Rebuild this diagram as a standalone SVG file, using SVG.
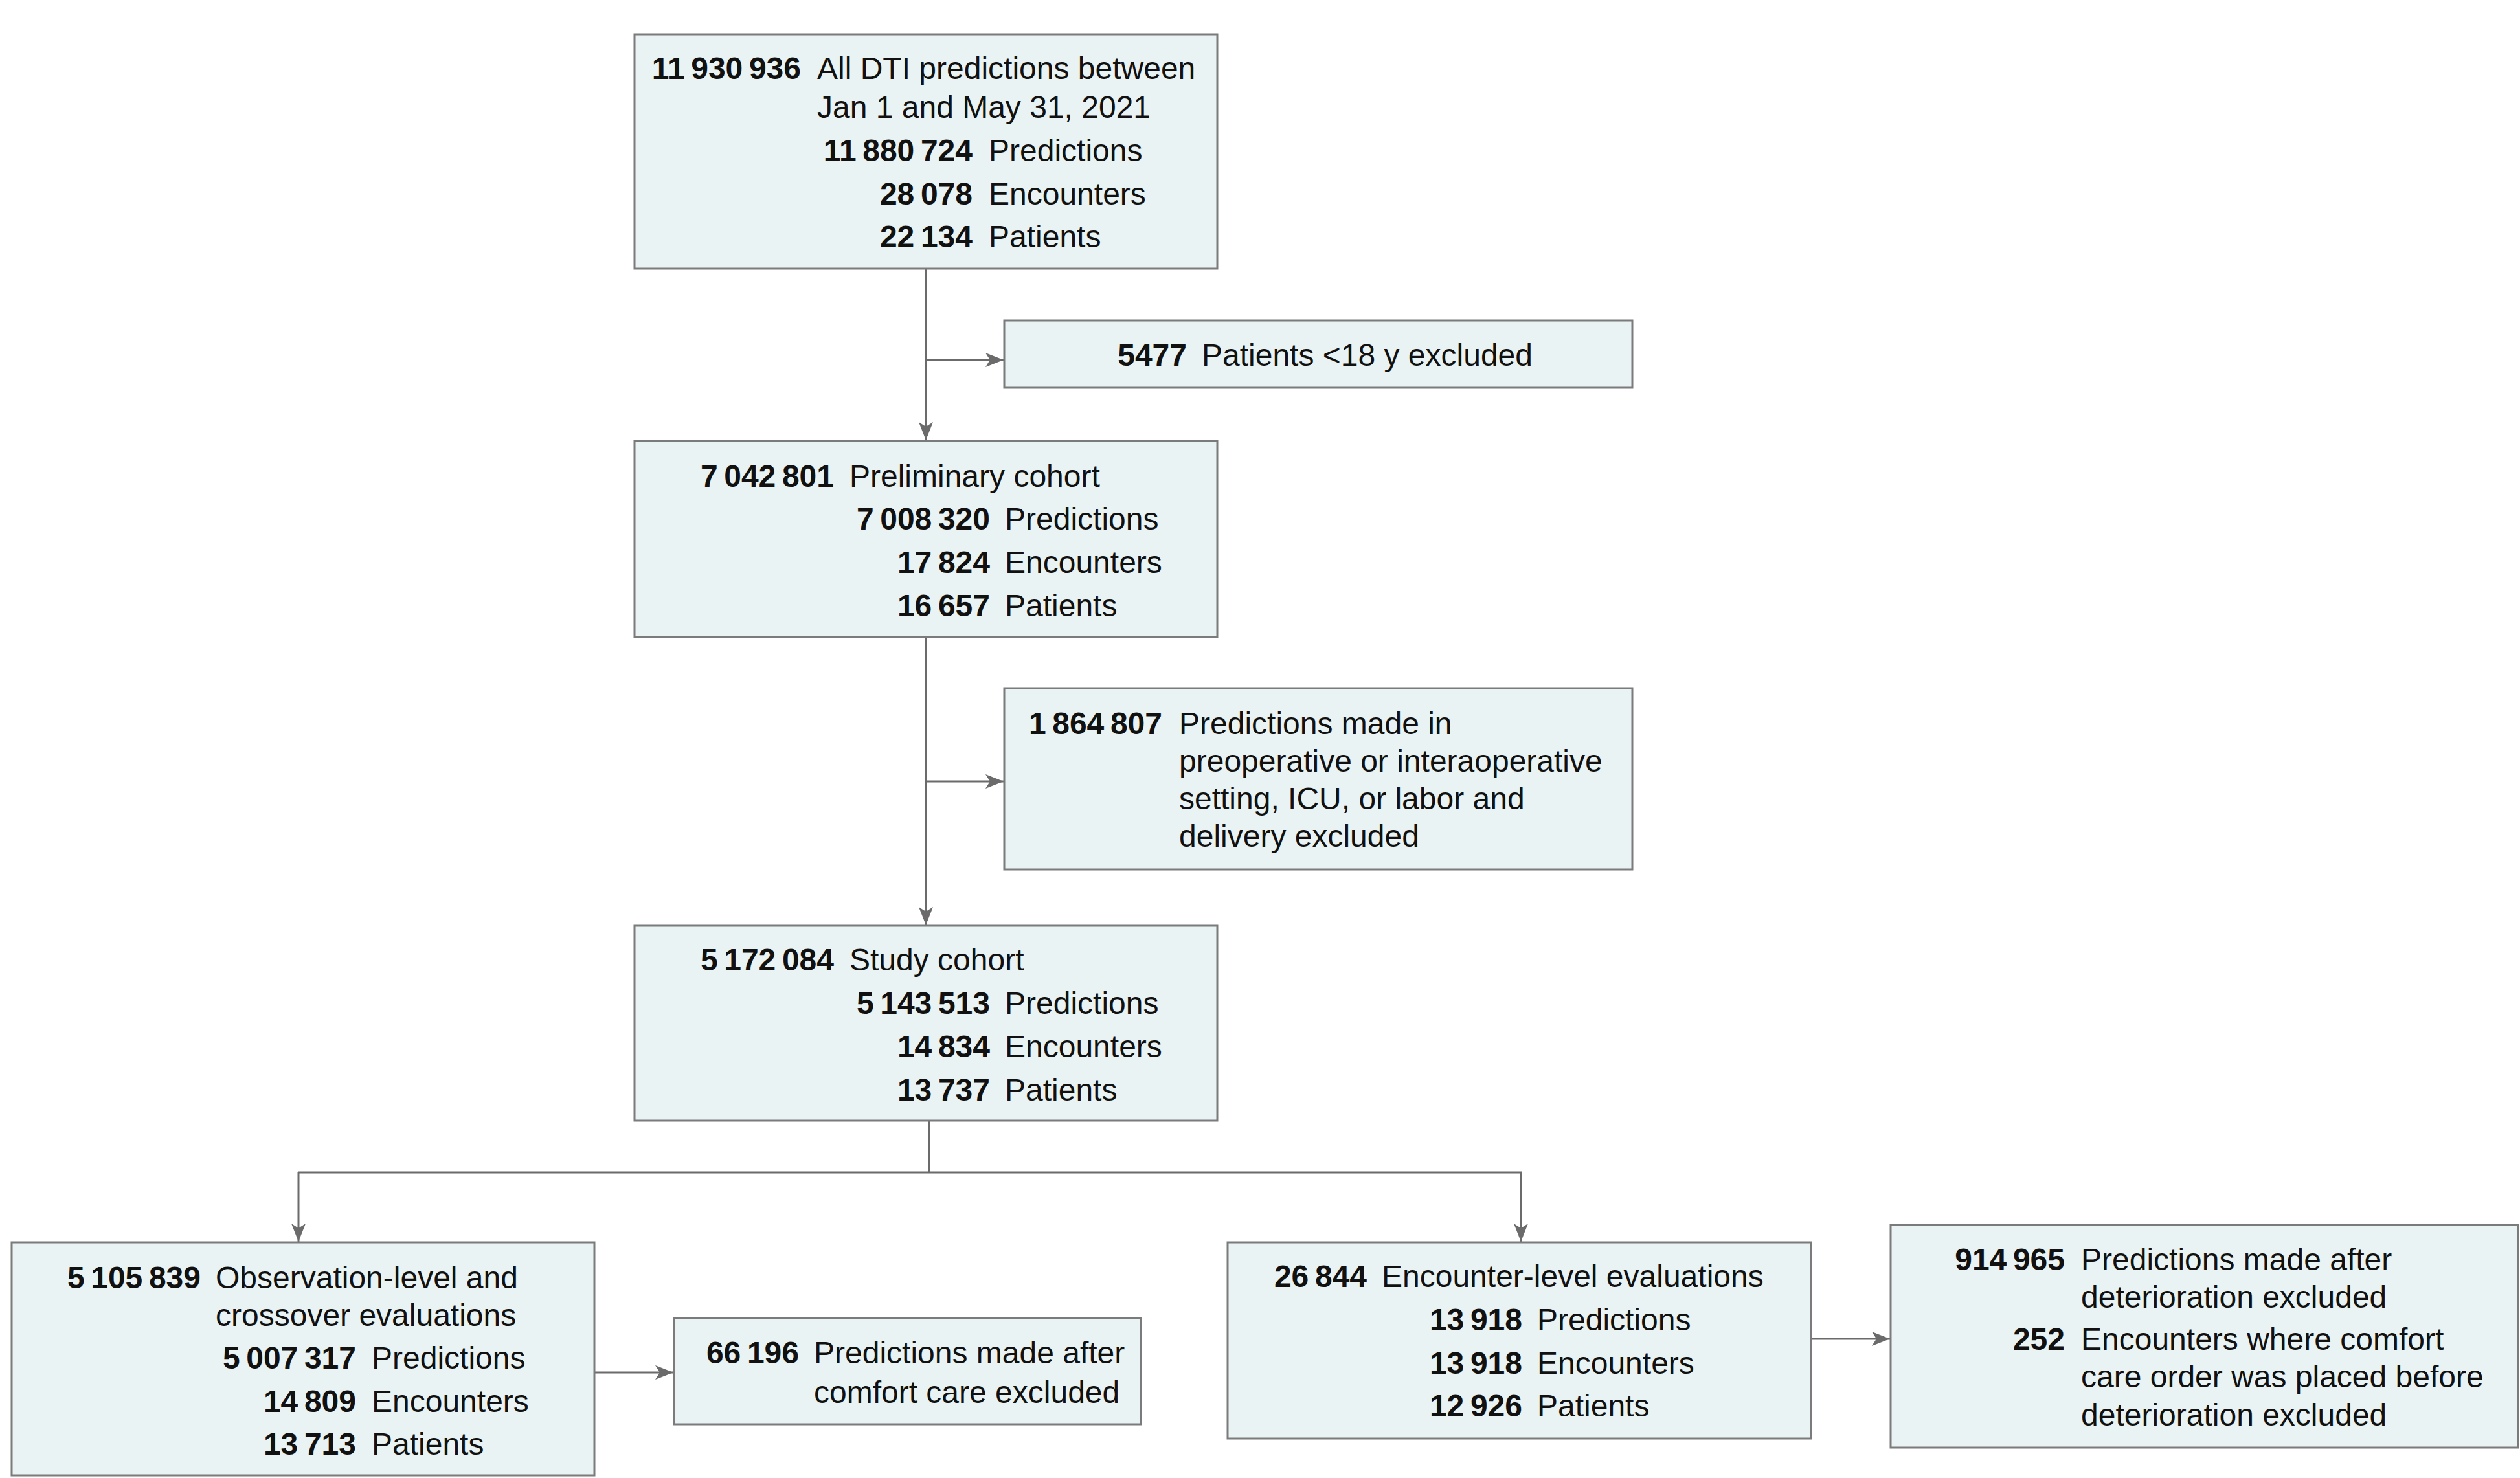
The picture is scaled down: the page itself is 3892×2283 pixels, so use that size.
<svg xmlns="http://www.w3.org/2000/svg" width="3892" height="2283" viewBox="0 0 3892 2283">
<style>
.box{fill:#e9f3f4;stroke:#7b7b7b;stroke-width:3}
.n{font-family:"Liberation Sans",Arial,sans-serif;font-size:48px;font-weight:bold;fill:#111;text-anchor:end}
.t{font-family:"Liberation Sans",Arial,sans-serif;font-size:48px;fill:#111}
.c{fill:none;stroke:#6b6b6b;stroke-width:3}
</style>
<defs>
<marker id="ah" viewBox="0 0 28 22" markerWidth="28" markerHeight="22" refX="28" refY="11" orient="auto" markerUnits="userSpaceOnUse">
<path d="M0,0 L28,11 L0,22 L7,11 Z" fill="#6b6b6b"/>
</marker>
</defs>
<rect width="3892" height="2283" fill="#fff"/>
<g id="connectors">
<line class="c" x1="1430" y1="415" x2="1430" y2="680" marker-end="url(#ah)"/>
<line class="c" x1="1430" y1="556" x2="1550" y2="556" marker-end="url(#ah)"/>
<line class="c" x1="1430" y1="984" x2="1430" y2="1429" marker-end="url(#ah)"/>
<line class="c" x1="1430" y1="1207" x2="1550" y2="1207" marker-end="url(#ah)"/>
<line class="c" x1="1435" y1="1731" x2="1435" y2="1811"/>
<line class="c" x1="460" y1="1811" x2="2350" y2="1811"/>
<line class="c" x1="461" y1="1811" x2="461" y2="1918" marker-end="url(#ah)"/>
<line class="c" x1="2349" y1="1811" x2="2349" y2="1918" marker-end="url(#ah)"/>
<line class="c" x1="918" y1="2120" x2="1040" y2="2120" marker-end="url(#ah)"/>
<line class="c" x1="2797" y1="2068" x2="2919" y2="2068" marker-end="url(#ah)"/>
</g>
<g id="all-predictions">
<rect class="box" x="980" y="53" width="900" height="362"/>
<text class="n" x="1237" y="122">11&#8201;930&#8201;936</text>
<text class="t" x="1262" y="122">All DTI predictions between</text>
<text class="t" x="1262" y="182">Jan 1 and May 31, 2021</text>
<text class="n" x="1502" y="249">11&#8201;880&#8201;724</text>
<text class="t" x="1527" y="249">Predictions</text>
<text class="n" x="1502" y="316">28&#8201;078</text>
<text class="t" x="1527" y="316">Encounters</text>
<text class="n" x="1502" y="382">22&#8201;134</text>
<text class="t" x="1527" y="382">Patients</text>
</g>
<g id="excl-under18">
<rect class="box" x="1551" y="495" width="970" height="104"/>
<text class="n" x="1833" y="565">5477</text>
<text class="t" x="1856" y="565">Patients &lt;18 y excluded</text>
</g>
<g id="preliminary-cohort">
<rect class="box" x="980" y="681" width="900" height="303"/>
<text class="n" x="1288" y="752">7&#8201;042&#8201;801</text>
<text class="t" x="1312" y="752">Preliminary cohort</text>
<text class="n" x="1529" y="818">7&#8201;008&#8201;320</text>
<text class="t" x="1552" y="818">Predictions</text>
<text class="n" x="1529" y="885">17&#8201;824</text>
<text class="t" x="1552" y="885">Encounters</text>
<text class="n" x="1529" y="952">16&#8201;657</text>
<text class="t" x="1552" y="952">Patients</text>
</g>
<g id="excl-setting">
<rect class="box" x="1551" y="1063" width="970" height="280"/>
<text class="n" x="1795" y="1134">1&#8201;864&#8201;807</text>
<text class="t" x="1821" y="1134">Predictions made in</text>
<text class="t" x="1821" y="1192">preoperative or interaoperative</text>
<text class="t" x="1821" y="1250">setting, ICU, or labor and</text>
<text class="t" x="1821" y="1308">delivery excluded</text>
</g>
<g id="study-cohort">
<rect class="box" x="980" y="1430" width="900" height="301"/>
<text class="n" x="1288" y="1499">5&#8201;172&#8201;084</text>
<text class="t" x="1312" y="1499">Study cohort</text>
<text class="n" x="1529" y="1566">5&#8201;143&#8201;513</text>
<text class="t" x="1552" y="1566">Predictions</text>
<text class="n" x="1529" y="1633">14&#8201;834</text>
<text class="t" x="1552" y="1633">Encounters</text>
<text class="n" x="1529" y="1700">13&#8201;737</text>
<text class="t" x="1552" y="1700">Patients</text>
</g>
<g id="observation-level">
<rect class="box" x="18" y="1919" width="900" height="360"/>
<text class="n" x="310" y="1990">5&#8201;105&#8201;839</text>
<text class="t" x="333" y="1990">Observation-level and</text>
<text class="t" x="333" y="2048">crossover evaluations</text>
<text class="n" x="550" y="2114">5&#8201;007&#8201;317</text>
<text class="t" x="574" y="2114">Predictions</text>
<text class="n" x="550" y="2181">14&#8201;809</text>
<text class="t" x="574" y="2181">Encounters</text>
<text class="n" x="550" y="2247">13&#8201;713</text>
<text class="t" x="574" y="2247">Patients</text>
</g>
<g id="excl-comfort">
<rect class="box" x="1041" y="2036" width="721" height="164"/>
<text class="n" x="1234" y="2106">66&#8201;196</text>
<text class="t" x="1257" y="2106">Predictions made after</text>
<text class="t" x="1257" y="2167">comfort care excluded</text>
</g>
<g id="encounter-level">
<rect class="box" x="1896" y="1919" width="901" height="303"/>
<text class="n" x="2111" y="1988">26&#8201;844</text>
<text class="t" x="2134" y="1988">Encounter-level evaluations</text>
<text class="n" x="2351" y="2055">13&#8201;918</text>
<text class="t" x="2374" y="2055">Predictions</text>
<text class="n" x="2351" y="2122">13&#8201;918</text>
<text class="t" x="2374" y="2122">Encounters</text>
<text class="n" x="2351" y="2188">12&#8201;926</text>
<text class="t" x="2374" y="2188">Patients</text>
</g>
<g id="excl-deterioration">
<rect class="box" x="2920" y="1892" width="969" height="344"/>
<text class="n" x="3189" y="1962">914&#8201;965</text>
<text class="t" x="3214" y="1962">Predictions made after</text>
<text class="t" x="3214" y="2020">deterioration excluded</text>
<text class="n" x="3189" y="2085">252</text>
<text class="t" x="3214" y="2085">Encounters where comfort</text>
<text class="t" x="3214" y="2143">care order was placed before</text>
<text class="t" x="3214" y="2202">deterioration excluded</text>
</g>
</svg>
